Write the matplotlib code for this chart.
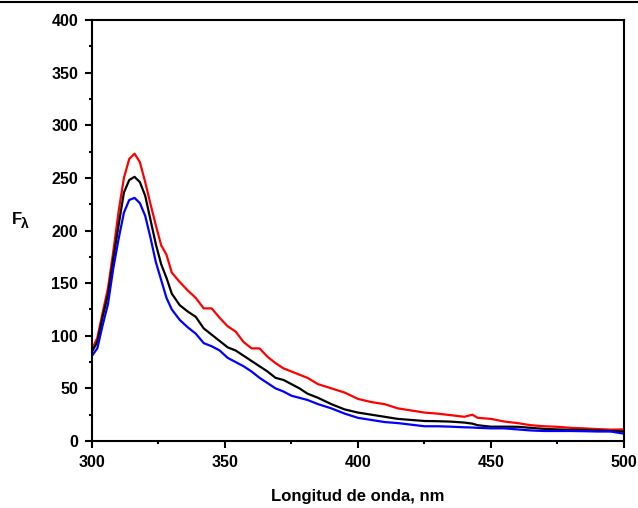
import matplotlib
matplotlib.use("Agg")
import matplotlib.pyplot as plt
from matplotlib.lines import Line2D
from matplotlib.ticker import MultipleLocator

plt.rcParams['font.family'] = ['Liberation Sans', 'DejaVu Sans']

# wavelength grid (nm) and emission intensity
wavelength = [300, 302, 304, 306, 308, 310, 312, 314, 316, 318, 320, 322, 324,
              326, 328, 330, 333, 336, 339, 342, 345, 348, 351, 354, 357, 360,
              363, 366, 369, 372, 375, 378, 381, 385, 390, 395, 400, 405, 410,
              415, 420, 425, 430, 435, 440, 443, 445, 450, 455, 460, 465, 470,
              475, 480, 485, 490, 495, 500]

f_red = [87, 98, 122, 145, 180, 218, 250, 268, 273, 265, 246, 225, 205,
         186, 177, 160, 151, 143, 136, 126, 126, 117, 109, 104, 94, 88,
         88, 80, 74, 69, 66, 63, 60, 54, 50, 46, 40, 37, 35,
         31, 29, 27, 26, 24.5, 23, 25, 22, 21, 18.5, 17, 15, 14,
         13.5, 12.5, 12, 11.3, 10.8, 11]

f_black = [85, 94, 118, 139, 173, 205, 236, 248, 251, 246, 233, 210, 187,
           168, 155, 140, 129, 123, 118, 107, 101, 95, 89, 86, 81, 76,
           71, 66, 60, 58, 54, 50, 45, 41, 35, 30, 27, 25, 23,
           21, 20, 19, 18.8, 18.4, 17.5, 16.5, 15, 13.6, 13.6, 13.5, 12.5, 11.5,
           11, 10.5, 10.5, 10, 9.5, 9]

f_blue = [81, 88, 110, 130, 164, 192, 217, 229, 231, 226, 214, 193, 170,
          153, 136, 125, 115, 108, 102, 93, 90, 86, 79, 75, 71, 66,
          60, 55, 50, 47, 43, 41, 39, 35, 31, 26, 22, 20, 18,
          17, 15.5, 14, 14, 13.6, 13, 12.8, 12.5, 12, 12, 11, 10, 9.5,
          9.5, 9.5, 9.3, 9, 9, 7]

fig = plt.figure(figsize=(6.38, 5.08), dpi=100)
ax = fig.add_axes([0.1442, 0.1319, 0.8338, 0.8287])

ax.plot(wavelength, f_red, color='#ff0000', lw=1.6)
ax.plot(wavelength, f_black, color='black', lw=1.6)
ax.plot(wavelength, f_blue, color='#0000ff', lw=1.6)

ax.set_xlim(300, 500)
ax.set_ylim(0, 400)
ax.xaxis.set_major_locator(MultipleLocator(50))
ax.xaxis.set_minor_locator(MultipleLocator(25))
ax.yaxis.set_major_locator(MultipleLocator(50))
ax.yaxis.set_minor_locator(MultipleLocator(25))

for s in ax.spines.values():
    s.set_linewidth(1.5)
ax.tick_params(which='both', direction='out', top=False, right=False, width=1.5)
ax.tick_params(which='major', length=5, pad=5, labelsize=11.5)
ax.tick_params(which='minor', length=2.5)
for lab in ax.get_xticklabels() + ax.get_yticklabels():
    lab.set_fontweight('bold')

ax.set_xlabel('Longitud de onda, nm', fontsize=12, fontweight='bold', labelpad=14)

# F with subscript lambda as y label
fig.text(12 / 638, 1 - 220 / 508, 'F', fontsize=12, fontweight='bold', va='center', ha='left')
fig.text(21 / 638, 1 - 224 / 508, 'λ', fontsize=10, fontweight='bold', va='center', ha='left')

# thin rule across the top of the image
fig.add_artist(Line2D([0, 1], [0.997, 0.997], color='black', lw=1.5, transform=fig.transFigure))

fig.savefig('out.png', dpi=100)
